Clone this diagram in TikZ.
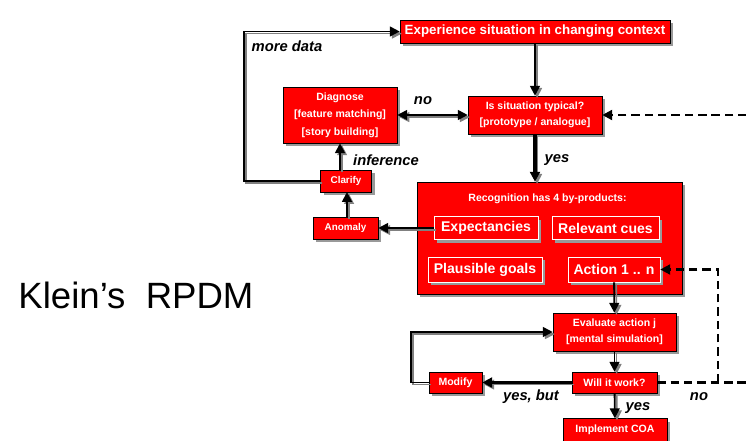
\documentclass[tikz,border=0pt]{standalone}
\usepackage{fontspec}
\setmainfont{Liberation Sans}
\usetikzlibrary{arrows.meta,shadows}

\tikzset{
  box/.style={draw=black, fill=red, text=white, inner sep=0pt, align=center,
    font=\bfseries\fontsize{7.5}{11}\selectfont,
    drop shadow={shadow xshift=2.2pt, shadow yshift=-2.2pt, fill=gray!80, opacity=1}},
  subbox/.style={box, draw=white, font=\bfseries\fontsize{10}{12}\selectfont},
  link/.style={line width=1.3pt, -{Triangle[length=7pt,width=7pt]},
    preaction={draw=gray, line width=1.1pt, transform canvas={xshift=1.5pt,yshift=-1.5pt}}},
  biglink/.style={link, line width=2.4pt},
  nolink/.style={line width=2pt, dash pattern=on 6pt off 3.5pt, -{Triangle[length=7pt,width=7pt]}},
  lbl/.style={font=\bfseries\itshape\fontsize{10.5}{12}\selectfont}
}

\begin{document}
\begin{tikzpicture}[x=0.025cm,y=-0.025cm]
\useasboundingbox (0,0) rectangle (746,441);

% title
\node (title) at (136,295) {\fontsize{26}{30}\selectfont Klein’s\ \ RPDM};

% boxes
\node[box, minimum width=6.75cm, minimum height=0.575cm, font=\bfseries\fontsize{9.5}{11}\selectfont] (exp) at (535,31.5) {Experience situation in changing context};
\node[box, minimum width=3.35cm, minimum height=0.95cm] (typ) at (535,115) {Is situation typical?\\{}[prototype / analogue]};
\node[box, minimum width=2.85cm, minimum height=1.4cm, font=\bfseries\fontsize{7.5}{12.5}\selectfont] (diag) at (340,115) {Diagnose\\{}[feature matching]\\{}[story building]};
\node[box, minimum width=1.275cm, minimum height=0.55cm, font=\bfseries\fontsize{7}{9}\selectfont] (clar) at (346,181) {Clarify};
\node[box, minimum width=1.625cm, minimum height=0.55cm, font=\bfseries\fontsize{7}{9}\selectfont] (anom) at (345.5,228) {Anomaly};

% recognition block
\node[box, minimum width=6.625cm, minimum height=2.8cm] (rec) at (549.5,238) {};
\node[text=white, font=\bfseries\fontsize{7.5}{9}\selectfont] (rechd) at (547.5,199) {Recognition has 4 by-products:};
\node[subbox, minimum width=2.6cm, minimum height=0.575cm] (expt) at (486,228) {Expectancies};
\node[subbox, minimum width=2.675cm, minimum height=0.575cm] (cues) at (605.5,228) {Relevant cues};
\node[subbox, minimum width=2.85cm, minimum height=0.625cm] (goal) at (485,269.5) {Plausible goals};
\node[subbox, minimum width=2.3cm, minimum height=0.625cm] (act) at (614,269.5) {Action 1 .. n};

% evaluation
\node[box, minimum width=3.075cm, minimum height=0.95cm] (eval) at (614.5,332) {Evaluate action j\\{}[mental simulation]};
\node[box, minimum width=2.125cm, minimum height=0.525cm] (work) at (614.5,382.5) {Will it work?};
\node[box, minimum width=1.325cm, minimum height=0.525cm] (mod) at (455.5,382.5) {Modify};
\node[box, minimum width=2.6cm, minimum height=0.575cm] (impl) at (615,430) {Implement COA};

% free ends off the right edge
\coordinate (offlow) at (760,382.5);
\coordinate (offtop) at (760,115);
\coordinate (turn) at (718,382.5);

% connectors
\draw[link] (exp) -- (typ);
\draw[link, {Triangle[length=7pt,width=7pt]}-{Triangle[length=7pt,width=7pt]}] (diag) -- (typ);
\draw[biglink] (typ.south) -- (typ.south |- rec.north);
\draw[link] (clar.north -| diag.south) -- (diag.south);
\draw[link] (anom.north -| 347,0) -- (347,192);
\draw[link] (clar.west) -- (244,181) |- (exp.west);
\draw[link] (expt.west) -- (anom.east);
\draw[link] (act) -- (eval);
\draw[link] (eval) -- (work);
\draw[biglink] (work) -- (mod);
\draw[link] (mod.west) -- (411,382.5) |- (eval.west);
\draw[link] (work) -- (impl);
\draw[nolink, -] (work.east) -- (offlow) -- (offtop);
\draw[nolink] (offtop) -- (typ.east);
\draw[nolink] (turn) |- (act.east);

% labels
\node[lbl] (lmore) at (287,46) {more data};
\node[lbl] (lno) at (423,101) {no};
\node[lbl] (linf) at (386,160) {inference};
\node[lbl] (lyes) at (557,160) {yes};
\node[lbl] (lbut) at (531,397) {yes, but};
\node[lbl] (lyes2) at (638,408) {yes};
\node[lbl] (lno2) at (699,397) {no};
\end{tikzpicture}
\end{document}
